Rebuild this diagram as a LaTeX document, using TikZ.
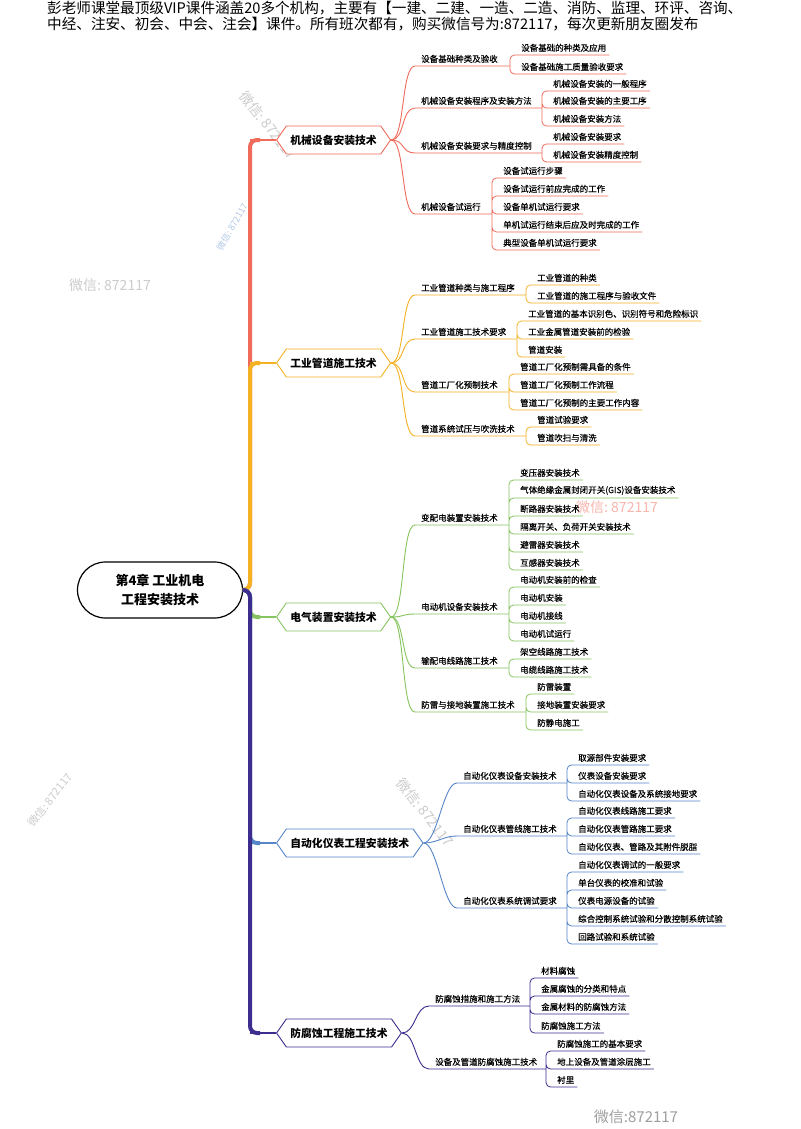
\documentclass[tikz,border=0pt]{standalone}
\usepackage{fontspec}
\setmainfont{Noto Sans CJK SC}
\newfontfamily\cjkmed[FakeBold=0.35]{Noto Sans CJK SC}
\usetikzlibrary{shapes.symbols}
\definecolor{cRed}{HTML}{F06B5A}
\definecolor{cYel}{HTML}{F4B223}
\definecolor{cGrn}{HTML}{86C45F}
\definecolor{cBlu}{HTML}{5685C8}
\definecolor{cPur}{HTML}{3D2D8E}
\begin{document}
\begin{tikzpicture}[x=1pt,y=-1pt,
    rootbox/.style={draw=black,line width=1.2pt,fill=white,rounded corners=28pt,minimum width=165pt,minimum height=56pt,align=center,font=\bfseries\fontsize{13}{19}\selectfont},
    topicbox/.style={shape=signal,signal to=west and east,signal pointer angle=110,draw=#1,fill=white,line width=0.9pt,minimum height=28pt,inner xsep=4pt,anchor=west,font=\bfseries\fontsize{10.8}{12}\selectfont},
    subtext/.style={anchor=south west,inner xsep=6pt,inner ysep=3pt,font=\cjkmed\fontsize{8.5}{10}\selectfont},
    leaftext/.style={anchor=south west,inner xsep=3pt,inner ysep=3pt,font=\cjkmed\fontsize{8.5}{10}\selectfont},
    spine/.style={line width=4pt,rounded corners=7pt},
    stub/.style={line width=1.4pt},
    twig/.style={line width=0.9pt},
    rake/.style={line width=0.8pt,rounded corners=4.5pt},
    wmark/.style={text=gray!40,font=\fontsize{14}{14}\selectfont}]
    \useasboundingbox[fill=white] (0,0) rectangle (800,1129);
    % header and watermarks
    \node[anchor=north west,inner sep=0pt,align=left,font=\fontsize{14.6}{15.5}\selectfont] (head) at (47,1) {彭老师课堂最顶级VIP课件涵盖20多个机构，主要有【一建、二建、一造、二造、消防、监理、环评、咨询、\\中经、注安、初会、中会、注会】课件。所有班次都有，购买微信号为:872117，每次更新朋友圈发布};
    \node[wmark,rotate=-52] (w1) at (268,125) {微信:\ 872117};
    \node[wmark,rotate=60,text=cBlu!45,font=\fontsize{9}{9}\selectfont] (w2) at (232,227) {微信:\ 872117};
    \node[wmark] (w3) at (110,285) {微信:\ 872117};
    \node[wmark,text=cRed!50] (w4) at (617,507) {微信:\ 872117};
    \node[wmark,rotate=-52] (w5) at (425,812) {微信:\ 872117};
    \node[wmark,rotate=52,font=\fontsize{11}{11}\selectfont] (w6) at (50,800) {微信:\ 872117};
    \node[wmark,text=gray!75,font=\fontsize{15}{15}\selectfont] (w7) at (636,1117) {微信:872117};
    % root and spine
    \node[rootbox] (root) at (160,590) {第4章 工业机电\\工程安装技术};
    \coordinate (j) at (250,590);
    \node[topicbox=cRed] (m1) at (276,140) {机械设备安装技术};
    \node[topicbox=cYel] (m2) at (276,363) {工业管道施工技术};
    \node[topicbox=cGrn] (m3) at (276,617) {电气装置安装技术};
    \node[topicbox=cBlu] (m4) at (276,843) {自动化仪表工程安装技术};
    \node[topicbox=cPur] (m5) at (276,1033) {防腐蚀工程施工技术};
    \draw[spine,cRed] (root.east) -- (j) |- ([xshift=-16pt]m1.west);
    \draw[stub,cRed] (j |- m1.west) -- (m1.west);
    \draw[spine,cYel] (root.east) -- (j) |- ([xshift=-16pt]m2.west);
    \draw[stub,cYel] (j |- m2.west) -- (m2.west);
    \draw[spine,cGrn] (root.east) -- (j) |- ([xshift=-16pt]m3.west);
    \draw[stub,cGrn] (j |- m3.west) -- (m3.west);
    \draw[spine,cBlu] (root.east) -- (j) |- ([xshift=-16pt]m4.west);
    \draw[stub,cBlu] (j |- m4.west) -- (m4.west);
    \draw[spine,cPur] (root.east) -- (j) |- ([xshift=-16pt]m5.west);
    \draw[stub,cPur] (j |- m5.west) -- (m5.west);
    % branch 1
    \node[subtext] (s11) at (415,66) {设备基础种类及验收};
    \coordinate (g11) at (510,66);
    \node[leaftext] (l111) at (518,55) {设备基础的种类及应用};
    \node[leaftext] (l112) at (518,74) {设备基础施工质量验收要求};
    \node[subtext] (s12) at (415,108) {机械设备安装程序及安装方法};
    \coordinate (g12) at (542,108);
    \node[leaftext] (l121) at (550,91) {机械设备安装的一般程序};
    \node[leaftext] (l122) at (550,108) {机械设备安装的主要工序};
    \node[leaftext] (l123) at (550,126) {机械设备安装方法};
    \node[subtext] (s13) at (415,153) {机械设备安装要求与精度控制};
    \coordinate (g13) at (542,153);
    \node[leaftext] (l131) at (550,144) {机械设备安装要求};
    \node[leaftext] (l132) at (550,162) {机械设备安装精度控制};
    \node[subtext] (s14) at (415,214) {机械设备试运行};
    \coordinate (g14) at (492,214);
    \node[leaftext] (l141) at (500,178) {设备试运行步骤};
    \node[leaftext] (l142) at (500,196) {设备试运行前应完成的工作};
    \node[leaftext] (l143) at (500,214) {设备单机试运行要求};
    \node[leaftext] (l144) at (500,232) {单机试运行结束后应及时完成的工作};
    \node[leaftext] (l145) at (500,250) {典型设备单机试运行要求};
    \draw[twig,cRed] (m1.east) .. controls +(14,0) and +(-14,0) .. (s11.south west) -- (g11);
    \draw[twig,cRed] (m1.east) .. controls +(14,0) and +(-14,0) .. (s12.south west) -- (g12);
    \draw[twig,cRed] (m1.east) .. controls +(14,0) and +(-14,0) .. (s13.south west) -- (g13);
    \draw[twig,cRed] (m1.east) .. controls +(14,0) and +(-14,0) .. (s14.south west) -- (g14);
    \draw[rake,cRed] (g11) |- (l111.south east) (g11) |- (l112.south east);
    \draw[rake,cRed] (g12) |- (l121.south east) (g12) |- (l122.south east) (g12) |- (l123.south east);
    \draw[rake,cRed] (g13) |- (l131.south east) (g13) |- (l132.south east);
    \draw[rake,cRed] (g14) |- (l141.south east) (g14) |- (l142.south east) (g14) |- (l143.south east) (g14) |- (l144.south east) (g14) |- (l145.south east);
    % branch 2
    \node[subtext] (s21) at (415,295) {工业管道种类与施工程序};
    \coordinate (g21) at (526,295);
    \node[leaftext] (l211) at (534,285) {工业管道的种类};
    \node[leaftext] (l212) at (534,303) {工业管道的施工程序与验收文件};
    \node[subtext] (s22) at (415,339) {工业管道施工技术要求};
    \coordinate (g22) at (517,339);
    \node[leaftext] (l221) at (525,321) {工业管道的基本识别色、识别符号和危险标识};
    \node[leaftext] (l222) at (525,339) {工业金属管道安装前的检验};
    \node[leaftext] (l223) at (525,357) {管道安装};
    \node[subtext] (s23) at (415,392) {管道工厂化预制技术};
    \coordinate (g23) at (509,392);
    \node[leaftext] (l231) at (517,374) {管道工厂化预制需具备的条件};
    \node[leaftext] (l232) at (517,392) {管道工厂化预制工作流程};
    \node[leaftext] (l233) at (517,410) {管道工厂化预制的主要工作内容};
    \node[subtext] (s24) at (415,436) {管道系统试压与吹洗技术};
    \coordinate (g24) at (526,436);
    \node[leaftext] (l241) at (534,427) {管道试验要求};
    \node[leaftext] (l242) at (534,445) {管道吹扫与清洗};
    \draw[twig,cYel] (m2.east) .. controls +(14,0) and +(-14,0) .. (s21.south west) -- (g21);
    \draw[twig,cYel] (m2.east) .. controls +(14,0) and +(-14,0) .. (s22.south west) -- (g22);
    \draw[twig,cYel] (m2.east) .. controls +(14,0) and +(-14,0) .. (s23.south west) -- (g23);
    \draw[twig,cYel] (m2.east) .. controls +(14,0) and +(-14,0) .. (s24.south west) -- (g24);
    \draw[rake,cYel] (g21) |- (l211.south east) (g21) |- (l212.south east);
    \draw[rake,cYel] (g22) |- (l221.south east) (g22) |- (l222.south east) (g22) |- (l223.south east);
    \draw[rake,cYel] (g23) |- (l231.south east) (g23) |- (l232.south east) (g23) |- (l233.south east);
    \draw[rake,cYel] (g24) |- (l241.south east) (g24) |- (l242.south east);
    % branch 3
    \node[subtext] (s31) at (415,525) {变配电装置安装技术};
    \coordinate (g31) at (509,525);
    \node[leaftext] (l311) at (517,480) {变压器安装技术};
    \node[leaftext] (l312) at (517,498) {气体绝缘金属封闭开关(GIS)设备安装技术};
    \node[leaftext] (l313) at (517,516) {断路器安装技术};
    \node[leaftext] (l314) at (517,534) {隔离开关、负荷开关安装技术};
    \node[leaftext] (l315) at (517,552) {避雷器安装技术};
    \node[leaftext] (l316) at (517,570) {互感器安装技术};
    \node[subtext] (s32) at (415,614) {电动机设备安装技术};
    \coordinate (g32) at (509,614);
    \node[leaftext] (l321) at (517,587) {电动机安装前的检查};
    \node[leaftext] (l322) at (517,605) {电动机安装};
    \node[leaftext] (l323) at (517,623) {电动机接线};
    \node[leaftext] (l324) at (517,641) {电动机试运行};
    \node[subtext] (s33) at (415,668) {输配电线路施工技术};
    \coordinate (g33) at (509,668);
    \node[leaftext] (l331) at (517,659) {架空线路施工技术};
    \node[leaftext] (l332) at (517,677) {电缆线路施工技术};
    \node[subtext] (s34) at (415,712) {防雷与接地装置施工技术};
    \coordinate (g34) at (526,712);
    \node[leaftext] (l341) at (534,694) {防雷装置};
    \node[leaftext] (l342) at (534,712) {接地装置安装要求};
    \node[leaftext] (l343) at (534,730) {防静电施工};
    \draw[twig,cGrn] (m3.east) .. controls +(14,0) and +(-14,0) .. (s31.south west) -- (g31);
    \draw[twig,cGrn] (m3.east) .. controls +(14,0) and +(-14,0) .. (s32.south west) -- (g32);
    \draw[twig,cGrn] (m3.east) .. controls +(14,0) and +(-14,0) .. (s33.south west) -- (g33);
    \draw[twig,cGrn] (m3.east) .. controls +(14,0) and +(-14,0) .. (s34.south west) -- (g34);
    \draw[rake,cGrn] (g31) |- (l311.south east) (g31) |- (l312.south east) (g31) |- (l313.south east) (g31) |- (l314.south east) (g31) |- (l315.south east) (g31) |- (l316.south east);
    \draw[rake,cGrn] (g32) |- (l321.south east) (g32) |- (l322.south east) (g32) |- (l323.south east) (g32) |- (l324.south east);
    \draw[rake,cGrn] (g33) |- (l331.south east) (g33) |- (l332.south east);
    \draw[rake,cGrn] (g34) |- (l341.south east) (g34) |- (l342.south east) (g34) |- (l343.south east);
    % branch 4
    \node[subtext] (s41) at (457,783) {自动化仪表设备安装技术};
    \coordinate (g41) at (567,783);
    \node[leaftext] (l411) at (575,765) {取源部件安装要求};
    \node[leaftext] (l412) at (575,783) {仪表设备安装要求};
    \node[leaftext] (l413) at (575,801) {自动化仪表设备及系统接地要求};
    \node[subtext] (s42) at (457,836) {自动化仪表管线施工技术};
    \coordinate (g42) at (567,836);
    \node[leaftext] (l421) at (575,818) {自动化仪表线路施工要求};
    \node[leaftext] (l422) at (575,836) {自动化仪表管路施工要求};
    \node[leaftext] (l423) at (575,854) {自动化仪表、管路及其附件脱脂};
    \node[subtext] (s43) at (457,908) {自动化仪表系统调试要求};
    \coordinate (g43) at (567,908);
    \node[leaftext] (l431) at (575,872) {自动化仪表调试的一般要求};
    \node[leaftext] (l432) at (575,890) {单台仪表的校准和试验};
    \node[leaftext] (l433) at (575,908) {仪表电源设备的试验};
    \node[leaftext] (l434) at (575,926) {综合控制系统试验和分散控制系统试验};
    \node[leaftext] (l435) at (575,944) {回路试验和系统试验};
    \draw[twig,cBlu] (m4.east) .. controls +(14,0) and +(-14,0) .. (s41.south west) -- (g41);
    \draw[twig,cBlu] (m4.east) .. controls +(14,0) and +(-14,0) .. (s42.south west) -- (g42);
    \draw[twig,cBlu] (m4.east) .. controls +(14,0) and +(-14,0) .. (s43.south west) -- (g43);
    \draw[rake,cBlu] (g41) |- (l411.south east) (g41) |- (l412.south east) (g41) |- (l413.south east);
    \draw[rake,cBlu] (g42) |- (l421.south east) (g42) |- (l422.south east) (g42) |- (l423.south east);
    \draw[rake,cBlu] (g43) |- (l431.south east) (g43) |- (l432.south east) (g43) |- (l433.south east) (g43) |- (l434.south east) (g43) |- (l435.south east);
    % branch 5
    \node[subtext] (s51) at (429,1006) {防腐蚀措施和施工方法};
    \coordinate (g51) at (530,1006);
    \node[leaftext] (l511) at (538,978) {材料腐蚀};
    \node[leaftext] (l512) at (538,996) {金属腐蚀的分类和特点};
    \node[leaftext] (l513) at (538,1014) {金属材料的防腐蚀方法};
    \node[leaftext] (l514) at (538,1033) {防腐蚀施工方法};
    \node[subtext] (s52) at (429,1069) {设备及管道防腐蚀施工技术};
    \coordinate (g52) at (546,1069);
    \node[leaftext] (l521) at (554,1051) {防腐蚀施工的基本要求};
    \node[leaftext] (l522) at (554,1069) {地上设备及管道涂层施工};
    \node[leaftext] (l523) at (554,1087) {衬里};
    \draw[twig,cPur] (m5.east) .. controls +(14,0) and +(-14,0) .. (s51.south west) -- (g51);
    \draw[twig,cPur] (m5.east) .. controls +(14,0) and +(-14,0) .. (s52.south west) -- (g52);
    \draw[rake,cPur] (g51) |- (l511.south east) (g51) |- (l512.south east) (g51) |- (l513.south east) (g51) |- (l514.south east);
    \draw[rake,cPur] (g52) |- (l521.south east) (g52) |- (l522.south east) (g52) |- (l523.south east);
\end{tikzpicture}
\end{document}
